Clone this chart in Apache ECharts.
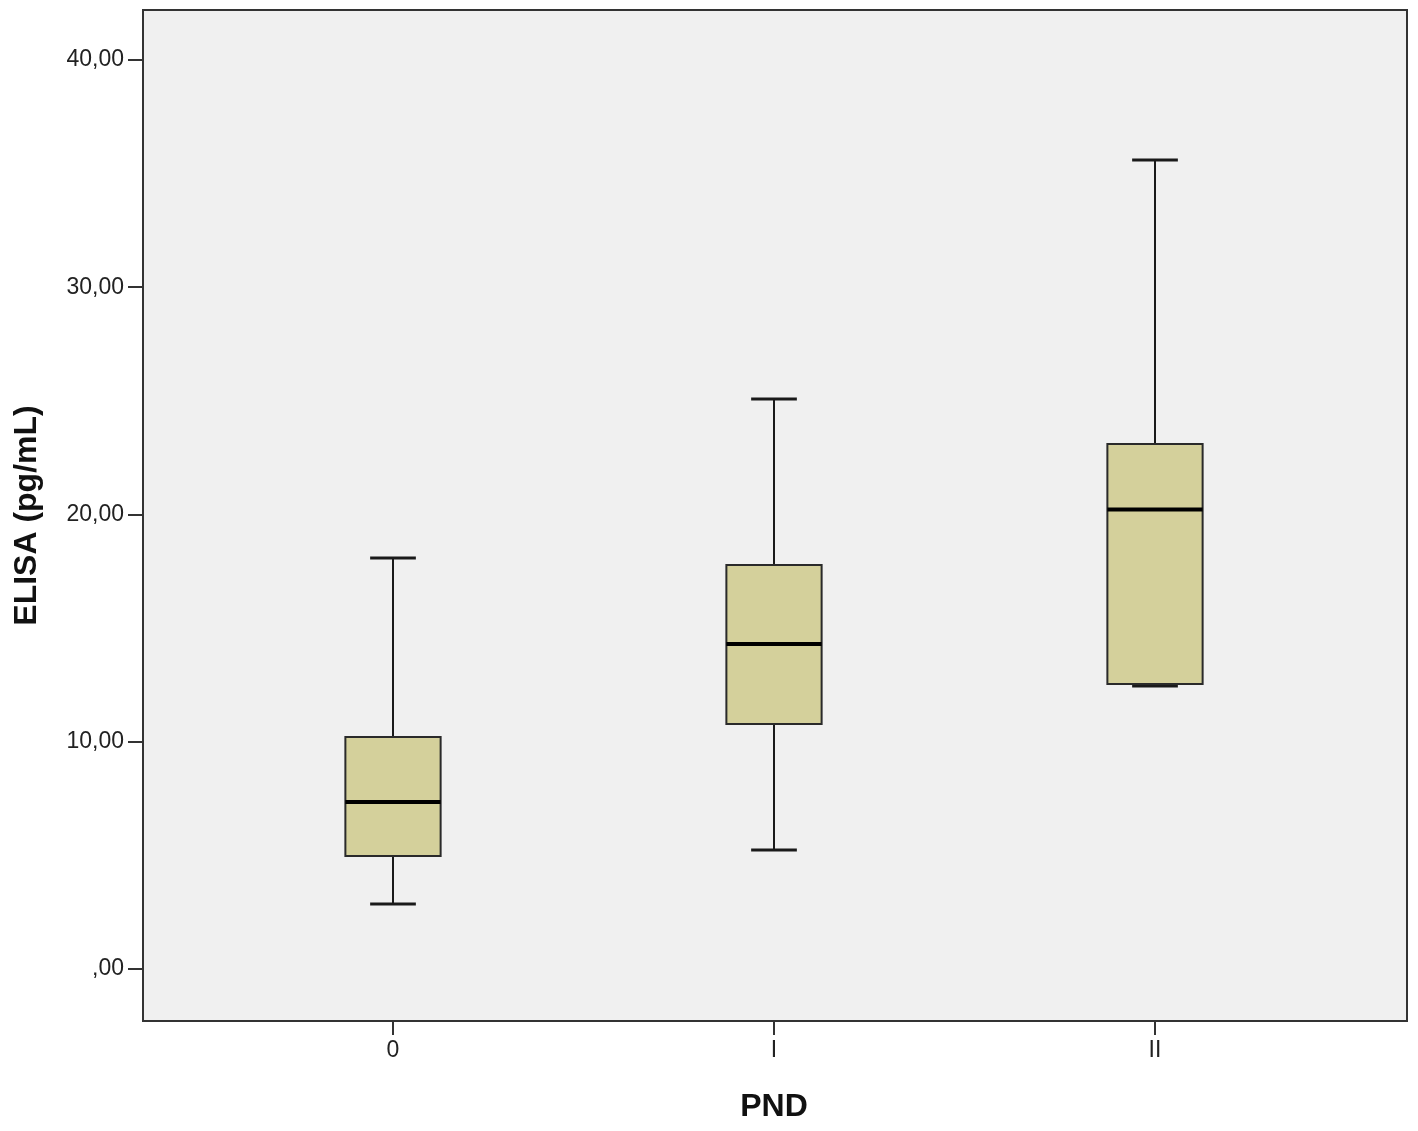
<!DOCTYPE html>
<html>
<head>
<meta charset="utf-8">
<script src="https://cdn.jsdelivr.net/npm/echarts@6/dist/echarts.min.js"></script>
<style>html,body{margin:0;padding:0;background:#fff}#c{width:1418px;height:1131px}</style>
</head>
<body>
<div id="c"></div>
<script>
var categories = ['0', 'I', 'II'];
var whiskerLow = [2.86, 5.24, 12.45];
var q1 = [4.97, 10.78, 12.54];
var median = [7.35, 14.30, 20.22];
var q3 = [10.21, 17.78, 23.10];
var whiskerHigh = [18.09, 25.08, 35.60];
var yTicks = [0, 10, 20, 30, 40];
var yMin = -2.29, yMax = 42.2;

var data = categories.map(function (c, i) {
  return [i, whiskerLow[i], q1[i], median[i], q3[i], whiskerHigh[i]];
});

function fmt(v) {
  if (v === 0) return ',00';
  return v.toFixed(2).replace('.', ',');
}

var chart = echarts.init(document.getElementById('c'));
var lineColor = '#1a1a1a';
chart.setOption({
  animation: false,
  backgroundColor: '#ffffff',
  grid: [
    { left: 143, right: 11, top: 10, bottom: 110, show: true, backgroundColor: '#f0f0f0', borderColor: '#333333', borderWidth: 2 },
    { left: 202.5, width: 1143, top: 10, bottom: 110 }
  ],
  xAxis: [
    { gridIndex: 0, type: 'value', show: false, min: 0, max: 1 },
    {
      gridIndex: 1, type: 'category', data: categories, position: 'bottom',
      axisLine: { show: false, onZero: false },
      axisTick: { show: true, alignWithLabel: true, length: 14, lineStyle: { color: '#333', width: 2 } },
      axisLabel: { color: '#222', fontFamily: 'Liberation Sans', fontSize: 23, margin: 18 },
      name: 'PND', nameLocation: 'middle', nameGap: 70,
      nameTextStyle: { color: '#111', fontFamily: 'Liberation Sans', fontWeight: 'bold', fontSize: 32 }
    }
  ],
  yAxis: [
    {
      gridIndex: 0, type: 'value', min: yMin, max: yMax,
      axisLine: { show: false },
      splitLine: { show: false },
      axisTick: { show: true, length: 15, customValues: yTicks, lineStyle: { color: '#333', width: 2 } },
      axisLabel: { customValues: yTicks, formatter: fmt, color: '#222', fontFamily: 'Liberation Sans', fontSize: 23, margin: 19 },
      name: 'ELISA (pg/mL)', nameLocation: 'middle', nameGap: 100, nameRotate: 90,
      nameTextStyle: { color: '#111', fontFamily: 'Liberation Sans', fontWeight: 'bold', fontSize: 32 }
    },
    { gridIndex: 1, type: 'value', min: yMin, max: yMax, show: false, splitLine: { show: false } }
  ],
  series: [{
    type: 'custom',
    xAxisIndex: 1,
    yAxisIndex: 1,
    data: data,
    encode: { x: 0, y: [1, 2, 3, 4, 5] },
    renderItem: function (params, api) {
      var xi = api.value(0);
      var pLow = api.coord([xi, api.value(1)]);
      var pQ1 = api.coord([xi, api.value(2)]);
      var pMed = api.coord([xi, api.value(3)]);
      var pQ3 = api.coord([xi, api.value(4)]);
      var pHigh = api.coord([xi, api.value(5)]);
      var bw = api.size([1, 0])[0] * 0.25;
      var cw = bw * 0.48;
      var cx = pMed[0];
      return {
        type: 'group',
        children: [
          { type: 'line', shape: { x1: cx, y1: pQ3[1], x2: cx, y2: pHigh[1] }, style: { stroke: lineColor, lineWidth: 2 } },
          { type: 'line', shape: { x1: cx, y1: pQ1[1], x2: cx, y2: pLow[1] }, style: { stroke: lineColor, lineWidth: 2 } },
          { type: 'line', shape: { x1: cx - cw / 2, y1: pHigh[1], x2: cx + cw / 2, y2: pHigh[1] }, style: { stroke: lineColor, lineWidth: 3 } },
          { type: 'line', shape: { x1: cx - cw / 2, y1: pLow[1], x2: cx + cw / 2, y2: pLow[1] }, style: { stroke: lineColor, lineWidth: 3 } },
          { type: 'rect', shape: { x: cx - bw / 2, y: pQ3[1], width: bw, height: pQ1[1] - pQ3[1] }, style: { fill: '#d4d09b', stroke: '#2a2a2a', lineWidth: 2 } },
          { type: 'line', shape: { x1: cx - bw / 2, y1: pMed[1], x2: cx + bw / 2, y2: pMed[1] }, style: { stroke: '#000', lineWidth: 4 } }
        ]
      };
    }
  }]
});
</script>
</body>
</html>
